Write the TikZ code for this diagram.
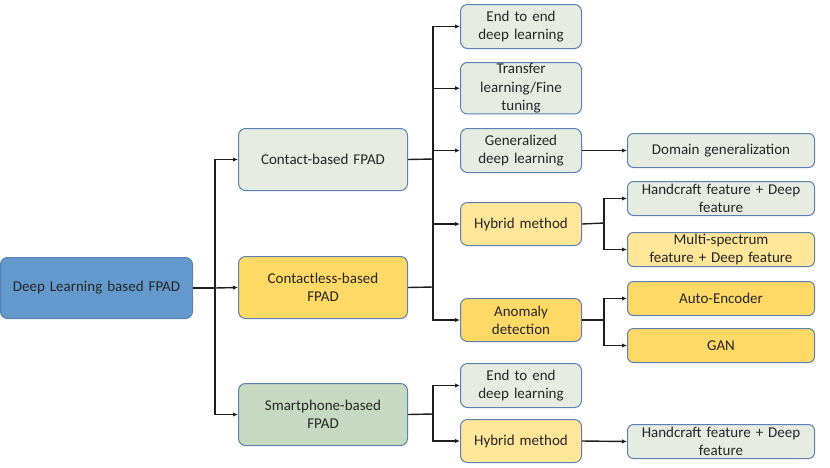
\documentclass[tikz,border=0pt]{standalone}
\usepackage{fontspec}
\setmainfont{Carlito}
\usetikzlibrary{arrows.meta}
\definecolor{dotfill}{HTML}{E6ECE2}
\definecolor{bordblue}{HTML}{5A80B4}
\definecolor{rootfill}{HTML}{6399CD}
\definecolor{yelA}{HTML}{FFD966}
\definecolor{yelB}{HTML}{FFE699}
\definecolor{greenfill}{HTML}{C6D9C1}
\definecolor{linecol}{HTML}{1E1E1E}
\tikzset{
  x=1pt,y=-1pt,
  box/.style={draw=bordblue, line width=1pt, rounded corners=7pt, align=center,
    font=\fontsize{15}{18.3}\selectfont, text=black!85, inner sep=1pt, anchor=north west},
  dotbox/.style={box, fill=dotfill},
  conn/.style={draw=linecol, line width=1.4pt},
  arr/.style={conn, -{Latex[length=5pt,width=4.5pt]}},
}
\begin{document}
\begin{tikzpicture}
\useasboundingbox (0,0) rectangle (830,467);
% level 0
\node[box, fill=rootfill, minimum width=192pt, minimum height=61pt, text width=184pt] (root) at (0,257) {Deep Learning based FPAD};
% level 1
\node[dotbox, minimum width=169pt, minimum height=62pt, text width=160pt] (contact) at (238,128) {Contact-based FPAD};
\node[box, fill=yelA, minimum width=169pt, minimum height=62pt, text width=140pt] (contactless) at (238,256) {Contactless-based\\FPAD};
\node[box, fill=greenfill, minimum width=169pt, minimum height=62pt, text width=140pt] (smart) at (238,383) {Smartphone-based\\FPAD};
% level 2
\node[dotbox, minimum width=121pt, minimum height=44pt, text width=115pt] (e2e) at (460,4) {End to end\\deep learning};
\node[dotbox, minimum width=121pt, minimum height=51pt, text width=115pt] (transfer) at (460,62) {Transfer\\learning/Fine\\tuning};
\node[dotbox, minimum width=121pt, minimum height=44pt, text width=115pt] (general) at (460,128) {Generalized\\deep learning};
\node[box, fill=yelB, minimum width=121pt, minimum height=43pt, text width=115pt] (hybrid) at (460,202) {Hybrid method};
\node[box, fill=yelA, minimum width=121pt, minimum height=43pt, text width=115pt] (anomaly) at (460,298) {Anomaly\\detection};
\node[dotbox, minimum width=121pt, minimum height=44pt, text width=115pt] (e2es) at (460,363) {End to end\\deep learning};
\node[box, fill=yelB, minimum width=121pt, minimum height=43pt, text width=115pt] (hybrids) at (460,419) {Hybrid method};
% level 3
\tikzset{small/.style={rounded corners=6pt, minimum width=187pt, minimum height=34pt, text width=183pt}}
\node[dotbox, small] (domain) at (627,133) {Domain generalization};
\node[dotbox, small] (hand) at (627,181) {Handcraft feature + Deep\\feature};
\node[box, fill=yelB, small] (multi) at (627,232) {Multi-spectrum\\feature + Deep feature};
\node[box, fill=yelA, small] (auto) at (627,281) {Auto-Encoder};
\node[box, fill=yelA, small] (gan) at (627,328) {GAN};
\node[dotbox, small] (hands) at (627,424) {Handcraft feature + Deep\\feature};
% junction coordinates
\coordinate (j0) at (215,288);
\coordinate (j1) at (433,159);
\coordinate (j2) at (433,287);
\coordinate (j3) at (604,223);
\coordinate (j4) at (604,320);
\coordinate (j5) at (433,414);
% connectors level 0 -> 1
\draw[conn] (root.east) -- (j0);
\draw[arr] (j0) |- (contact.west);
\draw[arr] (j0) -- (contactless.west);
\draw[arr] (j0) |- (smart.west);
% level 1 -> 2
\draw[conn] (contact.east) -- (j1);
\draw[conn] (contactless.east) -- (j2);
\draw[arr] (j1) |- (e2e.west);
\draw[arr] (j1) |- (transfer.west);
\draw[arr] (j1) |- (general.west);
\draw[arr] (j2) |- (hybrid.west);
\draw[arr] (j2) |- (anomaly.west);
\draw[conn] (j1) -- (j2);
\draw[conn] (smart.east) -- (j5);
\draw[arr] (j5) |- (e2es.west);
\draw[arr] (j5) |- (hybrids.west);
% level 2 -> 3
\draw[arr] (general.east) -- (domain.west);
\draw[conn] (hybrid.east) -- (j3);
\draw[arr] (j3) |- (hand.west);
\draw[arr] (j3) |- (multi.west);
\draw[conn] (anomaly.east) -- (j4);
\draw[arr] (j4) |- (auto.west);
\draw[arr] (j4) |- (gan.west);
\draw[arr] (hybrids.east) -- (hands.west);
\end{tikzpicture}
\end{document}
